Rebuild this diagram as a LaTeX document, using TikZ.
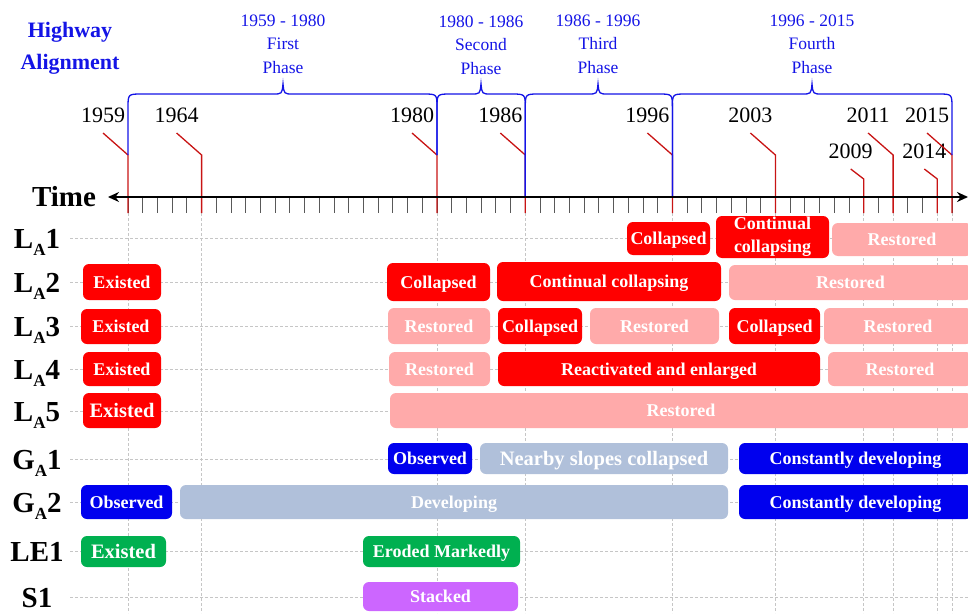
\documentclass[tikz,border=0pt]{standalone}
\usepackage{fontspec}
\setmainfont{Liberation Serif}
\usetikzlibrary{arrows.meta}

\definecolor{barred}{RGB}{255,0,0}
\definecolor{barpink}{RGB}{255,170,170}
\definecolor{barblue}{RGB}{0,0,238}
\definecolor{barsteel}{RGB}{176,192,218}
\definecolor{bargreen}{RGB}{0,176,80}
\definecolor{barpurple}{RGB}{204,102,255}
\definecolor{phaseblue}{RGB}{20,20,230}
\definecolor{leadred}{RGB}{200,20,20}

\newcommand{\rsub}[1]{\raisebox{-7pt}{\fontsize{17}{17}\selectfont #1}}

\begin{document}
\begin{tikzpicture}[x=1pt,y=-1pt,
  bw/.style={minimum width=#1pt},
  bh/.style={minimum height=#1pt},
  bar/.style={rounded corners=6pt,inner sep=0pt,text=white,align=center,
    text height=12pt,text depth=0pt,
    font=\fontsize{18}{21}\selectfont\bfseries},
  redbar/.style={bar,fill=barred},
  pinkbar/.style={bar,fill=barpink},
  bluebar/.style={bar,fill=barblue},
  steelbar/.style={bar,fill=barsteel},
  greenbar/.style={bar,fill=bargreen},
  purplebar/.style={bar,fill=barpurple},
  bigtxt/.style={text height=13.5pt,font=\fontsize{20.5}{21}\selectfont\bfseries},
  rowlbl/.style={inner sep=0pt,anchor=base,font=\fontsize{29}{29}\selectfont\bfseries},
  yearlbl/.style={inner sep=0pt,anchor=base,font=\fontsize{22}{22}\selectfont},
  phaselbl/.style={inner sep=0pt,align=center,text=phaseblue,font=\fontsize{17.5}{23.5}\selectfont},
  gridln/.style={densely dashed,gray!45,line width=0.6pt},
  tickln/.style={gray!70!black,line width=0.9pt},
  leader/.style={leadred,line width=1.3pt},
  brace/.style={phaseblue,line width=1.3pt},
]
\useasboundingbox (0,0) rectangle (968,613);
\clip (0,0) rectangle (968,613);

% grid
\foreach \yy in {238,282,326,369,411,459,502,551,597}
  \draw[gridln] (70,\yy) -- (968,\yy);
\foreach \xx in {128,201.6,437,525.3,672.4,775.4,863.7,893.1,937.3,952}
  \draw[gridln] (\xx,213) -- (\xx,613);

% ticks, one per year
\foreach \i in {0,...,56}
  \draw[tickln] ({128+\i*14.714},197) -- ++(0,16);

% year labels and leaders
\foreach \yr/\xx/\dx/\yb/\dy in {1959/128/25/122/22,1964/201.6/25/122/22,
    1980/437/25/122/22,1986/525.3/25/122/22,1996/672.4/25/122/22,
    2003/775.4/25/122/22,2009/863.7/13/158/10,2011/893.1/25/122/22,
    2014/937.3/13/158/10,2015/952/25/122/22}{
  \node[yearlbl] (y\yr) at (\xx-\dx,\yb) {\yr};
  \coordinate (t\yr) at (\xx,213);
  \draw[leader] ([shift={(0,11)}]y\yr.base) -- ++(\dx,\dy) -- (t\yr);
}

% phase braces
\draw[brace] (128,155) -- (128,108) .. controls (128,94) .. (142,94) -- (273,94)
  .. controls (282,94) .. (283,84) .. controls (284,94) .. (293,94) -- (423,94)
  .. controls (437,94) .. (437,108) -- (437,155);
\draw[brace] (437,155) -- (437,108) .. controls (437,94) .. (451,94) -- (471,94)
  .. controls (480,94) .. (481,84) .. controls (482,94) .. (491,94) -- (511,94)
  .. controls (525.3,94) .. (525.3,108) -- (525.3,197);
\draw[brace] (525.3,197) -- (525.3,108) .. controls (525.3,94) .. (539,94) -- (588,94)
  .. controls (597,94) .. (598,84) .. controls (599,94) .. (608,94) -- (658,94)
  .. controls (672.4,94) .. (672.4,108) -- (672.4,197);
\draw[brace] (672.4,197) -- (672.4,108) .. controls (672.4,94) .. (686,94) -- (802,94)
  .. controls (811,94) .. (812,84) .. controls (813,94) .. (822,94) -- (938,94)
  .. controls (952,94) .. (952,108) -- (952,155);

\node[phaselbl] (ph1) at (283,44) {1959 - 1980\\First\\Phase};
\node[phaselbl] (ph2) at (481,45) {1980 - 1986\\Second\\Phase};
\node[phaselbl] (ph3) at (598,44) {1986 - 1996\\Third\\Phase};
\node[phaselbl] (ph4) at (812,44) {1996 - 2015\\Fourth\\Phase};
\node[align=center,text=phaseblue,font=\fontsize{22}{32}\selectfont\bfseries]
  (hwy) at (70,48) {Highway\\Alignment};

% time axis
\node[inner sep=0pt,font=\fontsize{29}{29}\selectfont\bfseries] (time) at (64,197) {Time};
\coordinate (tstart) at (108,197);
\coordinate (tend) at (968,197);
\draw[line width=2.4pt,{Stealth[length=11pt,width=10pt]}-{Stealth[length=11pt,width=10pt]}]
  (tstart) -- (tend);

% row labels
\node[rowlbl] (la1) at (37,248) {L\rsub{A}1};
\node[rowlbl] (la2) at (37,292) {L\rsub{A}2};
\node[rowlbl] (la3) at (37,336) {L\rsub{A}3};
\node[rowlbl] (la4) at (37,379) {L\rsub{A}4};
\node[rowlbl] (la5) at (37,421) {L\rsub{A}5};
\node[rowlbl] (ga1) at (37,469) {G\rsub{A}1};
\node[rowlbl] (ga2) at (37,512) {G\rsub{A}2};
\node[rowlbl] (le1) at (37,561) {LE1};
\node[rowlbl] (s1) at (37,607) {S1};

% L_A1
\node[redbar,bw=83,bh=33] (la1a) at (668.5,238.5) {Collapsed};
\node[redbar,bw=113,bh=42,text height={},text depth={},
  font=\fontsize{18}{23}\selectfont\bfseries] (la1b) at (772.5,237) {Continual\\collapsing};
\node[pinkbar,bw=140,bh=33] (la1c) at (902,239.5) {Restored};

% L_A2
\node[redbar,bw=78,bh=36] (la2a) at (122,282) {Existed};
\node[redbar,bw=103,bh=38] (la2b) at (438.5,282) {Collapsed};
\node[redbar,bw=224,bh=39] (la2c) at (609,281.5) {Continual collapsing};
\node[pinkbar,bw=243,bh=35] (la2d) at (850.5,282.5) {Restored};

% L_A3
\node[redbar,bw=80,bh=35] (la3a) at (121,326.5) {Existed};
\node[pinkbar,bw=102,bh=36] (la3b) at (439,326) {Restored};
\node[redbar,bw=84,bh=36] (la3c) at (540,326) {Collapsed};
\node[pinkbar,bw=129,bh=36] (la3d) at (654.5,326) {Restored};
\node[redbar,bw=91,bh=36] (la3e) at (774.5,326) {Collapsed};
\node[pinkbar,bw=148,bh=36] (la3f) at (898,326) {Restored};

% L_A4
\node[redbar,bw=78,bh=34] (la4a) at (122,369) {Existed};
\node[pinkbar,bw=101,bh=34] (la4b) at (439.5,369) {Restored};
\node[redbar,bw=322,bh=34] (la4c) at (659,369) {Reactivated and enlarged};
\node[pinkbar,bw=144,bh=34] (la4d) at (900,369) {Restored};

% L_A5
\node[redbar,bw=78,bh=35,bigtxt] (la5a) at (122,410.5) {Existed};
\node[pinkbar,bw=582,bh=35] (la5b) at (681,410.5) {Restored};

% G_A1
\node[bluebar,bw=84,bh=31] (ga1a) at (430,458.5) {Observed};
\node[steelbar,bw=248,bh=31,bigtxt] (ga1b) at (604,458.5) {Nearby slopes collapsed};
\node[bluebar,bw=233,bh=31] (ga1c) at (855.5,458.5) {Constantly developing};

% G_A2
\node[bluebar,bw=91,bh=34] (ga2a) at (126.5,502) {Observed};
\node[steelbar,bw=548,bh=34] (ga2b) at (454,502) {Developing};
\node[bluebar,bw=233,bh=34] (ga2c) at (855.5,502) {Constantly developing};

% LE1 and S1
\node[greenbar,bw=85,bh=31,bigtxt] (le1a) at (123.5,551.5) {Existed};
\node[greenbar,bw=157,bh=31] (le1b) at (441.5,551.5) {Eroded Markedly};
\node[purplebar,bw=155,bh=29] (s1a) at (440.5,596.5) {Stacked};

\end{tikzpicture}
\end{document}
